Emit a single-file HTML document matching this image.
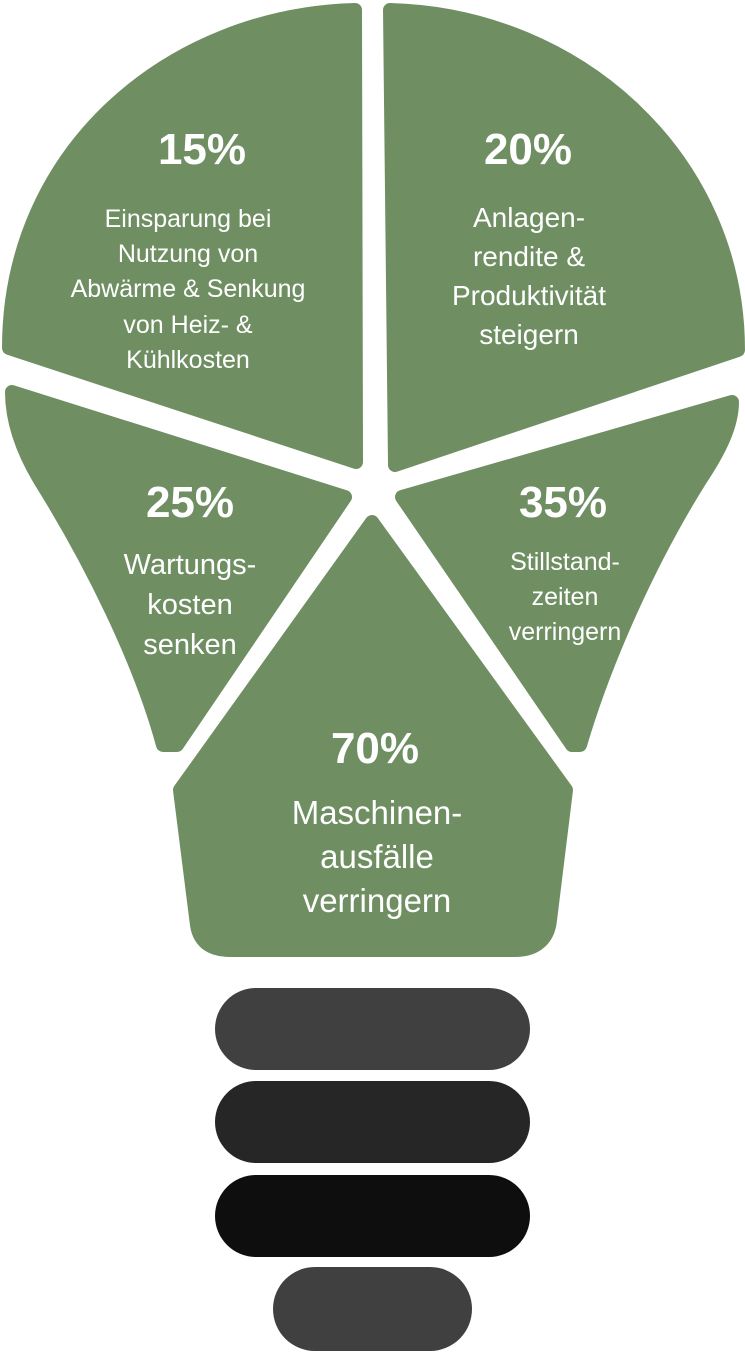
<!DOCTYPE html>
<html><head><meta charset="utf-8"><style>
html,body{margin:0;padding:0;background:#fff;}
svg{display:block}
text{font-family:"Liberation Sans",sans-serif;fill:#fff;text-anchor:middle}
.p{font-weight:bold;font-size:44px}
.s{font-size:25px}
</style></head><body>
<svg width="745" height="1352" viewBox="0 0 745 1352">
<g fill="#6f8f63" stroke="#6f8f63" stroke-width="14" stroke-linejoin="round">
<path d="M9,348 C9,150 170,15 355,10 L356,462 Z"/>
<path d="M390,10 C580,15 738,160 738,350 L395,465 Z"/>
<path d="M12,392 L345,497 L177,745 L163,745 C140,660 90,560 40,480 C22,450 12,420 12,392 Z"/>
<path d="M732,402 L402,497 L572,745 L580,745 C605,660 650,560 700,480 C720,450 732,425 732,402 Z"/>
<path d="M372,522 L180,790 L197,925 C200,945 215,950 230,950 L515,950 C535,950 548,940 550,920 L566,790 Z"/>
</g>
<g>
<rect x="215" y="988" width="315" height="82" rx="41" fill="#404040"/>
<rect x="215" y="1081" width="315" height="82" rx="41" fill="#262626"/>
<rect x="215" y="1175" width="315" height="82" rx="41" fill="#0e0e0e"/>
<rect x="273" y="1267" width="199" height="84" rx="42" fill="#404040"/>
</g>
<text class="p" x="202" y="164">15%</text>
<text class="s" x="188" y="227">Einsparung bei</text>
<text class="s" x="188" y="262">Nutzung von</text>
<text class="s" x="188" y="297">Abwärme &amp; Senkung</text>
<text class="s" x="188" y="333">von Heiz- &amp;</text>
<text class="s" x="188" y="368">Kühlkosten</text>
<text class="p" x="528" y="164">20%</text>
<text class="s" x="529" y="227" style="font-size:28px">Anlagen-</text>
<text class="s" x="529" y="266" style="font-size:28px">rendite &amp;</text>
<text class="s" x="529" y="305" style="font-size:28px">Produktivität</text>
<text class="s" x="529" y="344" style="font-size:28px">steigern</text>
<text class="p" x="190" y="517">25%</text>
<text class="s" x="190" y="574" style="font-size:29px">Wartungs-</text>
<text class="s" x="190" y="614" style="font-size:29px">kosten</text>
<text class="s" x="190" y="654" style="font-size:29px">senken</text>
<text class="p" x="563" y="517">35%</text>
<text class="s" x="565" y="570">Stillstand-</text>
<text class="s" x="565" y="605">zeiten</text>
<text class="s" x="565" y="640">verringern</text>
<text class="p" x="375" y="763">70%</text>
<text class="s" x="377" y="824" style="font-size:33px">Maschinen-</text>
<text class="s" x="377" y="868" style="font-size:33px">ausfälle</text>
<text class="s" x="377" y="912" style="font-size:33px">verringern</text>
</svg>
</body></html>
